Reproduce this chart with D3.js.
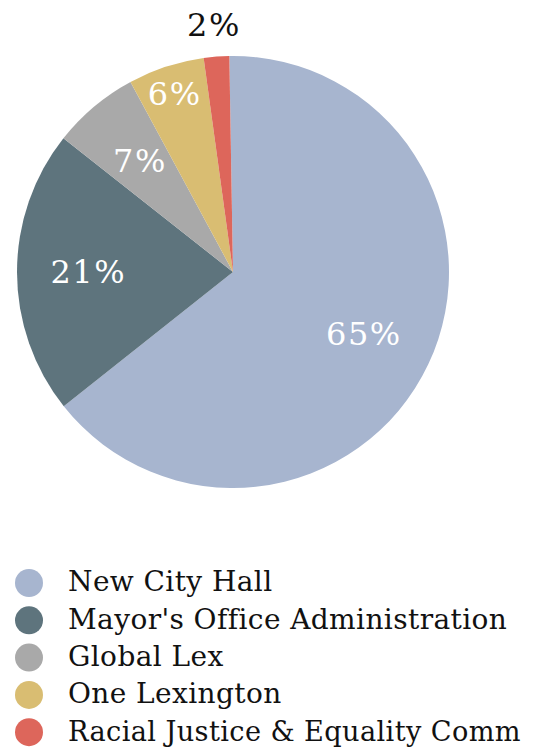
<!DOCTYPE html>
<html lang="en">
<head>
<meta charset="utf-8">
<title>Pie</title>
<script src="https://cdn.jsdelivr.net/npm/d3@7"></script>
<style>
  body { margin: 0; background: #fff; }
  text { font-family: "DejaVu Serif", serif; }
</style>
</head>
<body>
<script>
// data
var categories = ["New City Hall", "Mayor's Office Administration", "Global Lex", "One Lexington", "Racial Justice & Equality Comm"];
var values = [64.6, 21.3, 6.5, 5.7, 1.9];
var colors = ["#a7b5cf", "#5e747d", "#a9a9a9", "#d9bd72", "#dd665b"];

var width = 534, height = 749;
var cx = 233, cy = 272, radius = 216;

var svg = d3.select("body").append("svg")
  .attr("width", width)
  .attr("height", height);

var data = categories.map(function(c, i) { return {name: c, value: values[i], color: colors[i]}; });
var total = d3.sum(values);

var pie = d3.pie()
  .sort(null)
  .value(function(d) { return d.value; })
  .startAngle(-0.017)
  .endAngle(2 * Math.PI - 0.017);

var arc = d3.arc().innerRadius(0).outerRadius(radius);

var g = svg.append("g").attr("transform", "translate(" + cx + "," + cy + ")");

var arcs = pie(data);

g.selectAll("path.slice")
  .data(arcs)
  .enter().append("path")
  .attr("class", "slice")
  .attr("d", arc)
  .attr("fill", function(d) { return d.data.color; });

// label radius depends on how small the slice is
function labelRadius(d) {
  var share = d.data.value / total;
  if (share < 0.03) return radius + 32;   // outside
  if (share < 0.06) return radius * 0.87;
  return radius * 0.67;
}

g.selectAll("text.lbl")
  .data(arcs)
  .enter().append("text")
  .attr("class", "lbl")
  .attr("transform", function(d) {
    var r = labelRadius(d);
    var c = d3.arc().innerRadius(r).outerRadius(r).centroid(d);
    return "translate(" + c[0] + "," + c[1] + ")";
  })
  .attr("text-anchor", "middle")
  .attr("dy", "0.35em")
  .attr("font-size", 32)
  .attr("letter-spacing", 1.5)
  .attr("fill", function(d) { return d.data.value / total < 0.03 ? "#111" : "#fff"; })
  .text(function(d) { return Math.round(d.data.value / total * 100) + "%"; });

// legend
var legend = svg.append("g").attr("transform", "translate(29,583)");
var rows = legend.selectAll("g.row")
  .data(data)
  .enter().append("g")
  .attr("class", "row")
  .attr("transform", function(d, i) { return "translate(0," + (i * 37.3) + ")"; });

rows.append("circle")
  .attr("r", 14)
  .attr("fill", function(d) { return d.color; });

var maxText = 521 - 29 - 39;
rows.append("text")
  .attr("x", 39)
  .attr("dy", "0.3em")
  .attr("font-size", 28)
  .attr("letter-spacing", 0.4)
  .attr("fill", "#111")
  .text(function(d) { return d.name; })
  .each(function() {
    // squeeze lines that run past the right edge
    if (this.getComputedTextLength() > maxText) {
      d3.select(this).attr("textLength", maxText).attr("lengthAdjust", "spacingAndGlyphs");
    }
  });
</script>
</body>
</html>
